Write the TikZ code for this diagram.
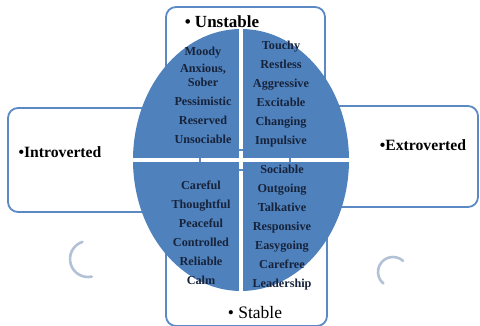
\documentclass[tikz,border=0pt]{standalone}
\usepackage{fontspec}
\setmainfont{Liberation Serif}
\usepackage{tikz}
\usetikzlibrary{positioning}

\definecolor{quadblue}{HTML}{4F81BD}
\definecolor{framblue}{HTML}{5A89C4}
\definecolor{navytxt}{HTML}{17233A}
\definecolor{swirl}{HTML}{B3C1D6}

\begin{document}
\begin{tikzpicture}[
    x=1pt, y=1pt,
    frame/.style={draw=framblue, line width=1.8pt, rounded corners=10pt},
    quad/.style={fill=quadblue},
    trait/.style={align=center, text=navytxt, font=\fontsize{12.2}{19}\selectfont\bfseries},
    axis/.style={font=\fontsize{17}{20}\selectfont\bfseries, text=black, inner sep=0pt},
    side/.style={font=\fontsize{15.7}{19}\selectfont\bfseries, text=black, inner sep=0pt},
    swirlarc/.style={draw=swirl, line width=2.6pt, line cap=round}
  ]
    \useasboundingbox (0,0) rectangle (480,326);

    % four frames sitting behind the oval
    \draw[frame] (166,176) rectangle (325,319);
    \draw[frame] (166,0) rectangle (327,156);
    \draw[frame] (8,114) rectangle (200,218);
    \draw[frame] (290,119) rectangle (478,220);

    % oval cut into quarters
    \coordinate (c) at (241,166);
    \begin{scope}
      \clip (c) ellipse [x radius=108, y radius=131];
      \fill[quad] (120,168) rectangle (239,310);
      \fill[quad] (243,168) rectangle (360,310);
      \fill[quad] (120,20) rectangle (239,164);
      \fill[quad] (243,20) rectangle (360,164);
    \end{scope}

    \node[trait] (ul) at (203,231) {Moody\\[-2pt]Anxious,\\[-5pt]Sober\\Pessimistic\\Reserved\\Unsociable};
    \node[trait] (ur) at (281,232) {Touchy\\Restless\\Aggressive\\Excitable\\Changing\\Impulsive};
    \node[trait] (ll) at (201,93) {Careful\\Thoughtful\\Peaceful\\Controlled\\Reliable\\Calm};
    \node[trait] (lr) at (282,98) {Sociable\\Outgoing\\Talkative\\Responsive\\Easygoing\\Carefree\\Leadership};

    % axis labels
    \node[axis] (unstable) at (222,304) {• Unstable};
    \node[axis, font=\fontsize{17.5}{20}\selectfont] (stable) at (255,13) {• Stable};
    \node[side] (intro) at (60,174) {•Introverted};
    \node[side] (extro) at (423,181) {•Extroverted};

    % loose swirls
    \draw[swirlarc] (88,67) ++(108:18) arc[start angle=108, end angle=282, radius=18];
    \draw[swirlarc] (393,54) ++(48:15) arc[start angle=48, end angle=230, radius=15];
\end{tikzpicture}
\end{document}
